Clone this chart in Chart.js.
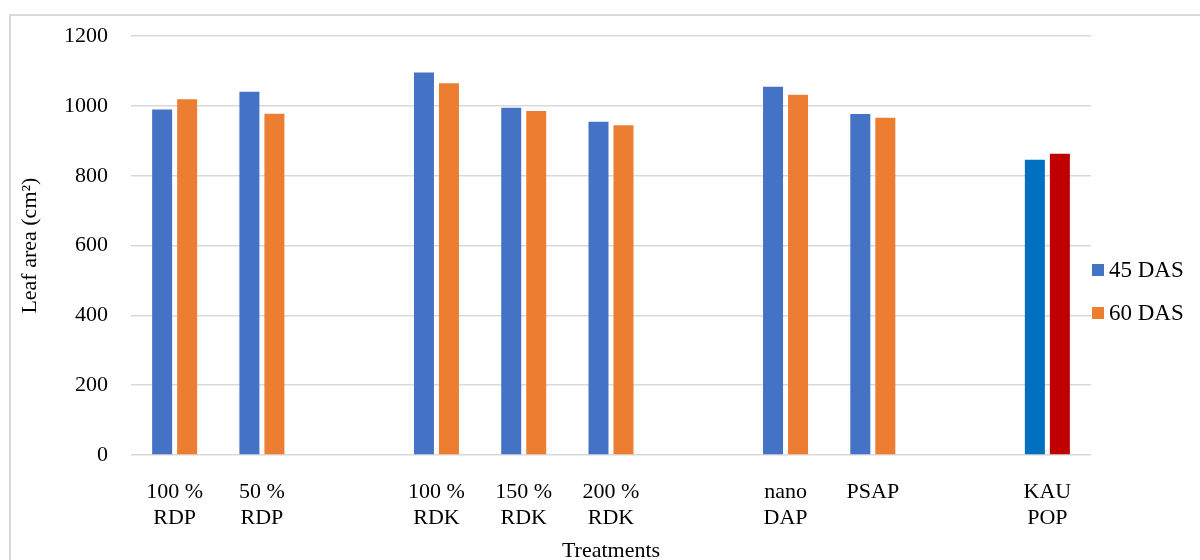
<!DOCTYPE html>
<html>
<head>
<meta charset="utf-8">
<script src="https://cdn.jsdelivr.net/npm/chart.js@4"></script>
<style>
  html, body { margin: 0; padding: 0; width: 1200px; height: 560px; overflow: hidden; background: #fff; }
  #wrap { position: absolute; left: 0; top: 0; width: 1200px; height: 575px; }
  #frame { position: absolute; left: 9px; top: 14px; width: 1200px; height: 600px; border-left: 2px solid #d9d9d9; border-top: 2px solid #d9d9d9; pointer-events: none; }
  #legend { position: absolute; left: 1092px; top: 256px; font-family: "Liberation Serif", "Times New Roman", serif; font-size: 23px; color: #000; }
  .item { display: flex; align-items: center; height: 28px; margin-bottom: 15px; white-space: nowrap; }
  .sw { width: 12px; height: 12px; margin-right: 5px; }
</style>
</head>
<body>
<div id="wrap"><canvas id="c" width="1200" height="575"></canvas></div>
<div id="frame"></div>
<div id="legend"></div>
<script>
const categories = [["100 %","RDP"],["50 %","RDP"],"",["100 %","RDK"],["150 %","RDK"],["200 %","RDK"],"",["nano","DAP"],"PSAP","",["KAU","POP"]];
const das45 = [990, 1041, null, 1096, 995, 955, null, 1055, 977, null, 846];
const das60 = [1019, 978, null, 1065, 986, 945, null, 1032, 966, null, 863];
const seriesNames = ["45 DAS", "60 DAS"];
const yTicks = [0, 200, 400, 600, 800, 1000, 1200];

const blue = "#4472C4", orange = "#ED7D31";
const kauBlue = "#0070C0", kauRed = "#C00000";
const col45 = categories.map((c, i) => i === categories.length - 1 ? kauBlue : blue);
const col60 = categories.map((c, i) => i === categories.length - 1 ? kauRed : orange);

const FONT = "'Liberation Serif', 'Times New Roman', serif";

new Chart(document.getElementById('c'), {
  type: 'bar',
  data: {
    labels: categories,
    datasets: [
      { label: seriesNames[0], data: das45, backgroundColor: col45, barPercentage: 0.8, categoryPercentage: 0.573 },
      { label: seriesNames[1], data: das60, backgroundColor: col60, barPercentage: 0.8, categoryPercentage: 0.573 }
    ]
  },
  options: {
    responsive: false,
    animation: false,
    layout: { padding: { left: 0, right: 109, top: 35, bottom: 0 } },
    plugins: { legend: { display: false }, tooltip: { enabled: false } },
    scales: {
      x: {
        grid: { display: false, drawTicks: false },
        border: { display: false },
        ticks: { color: '#000', font: { family: FONT, size: 22 }, padding: 24, maxRotation: 0, autoSkip: false },
        title: { display: true, text: 'Treatments', color: '#000', font: { family: FONT, size: 22 }, padding: { top: 0, bottom: 11 } },
        afterFit: s => { s.height = 120; }
      },
      y: {
        min: 0, max: 1200,
        afterBuildTicks: s => { s.ticks = yTicks.map(v => ({ value: v })); },
        grid: { color: '#d9d9d9', lineWidth: 1.5, drawTicks: false },
        border: { display: false },
        ticks: { color: '#000', font: { family: FONT, size: 22 }, padding: 23, callback: v => String(v) },
        title: { display: true, text: 'Leaf area (cm²)', color: '#000', font: { family: FONT, size: 22 }, padding: { top: 17, bottom: 0 } },
        afterFit: s => { s.width = 131; }
      }
    }
  }
});

const lg = document.getElementById('legend');
[[seriesNames[0], blue], [seriesNames[1], orange]].forEach(([t, c]) => {
  const d = document.createElement('div'); d.className = 'item';
  const sw = document.createElement('div'); sw.className = 'sw'; sw.style.background = c;
  const tx = document.createElement('span'); tx.textContent = t;
  d.appendChild(sw); d.appendChild(tx); lg.appendChild(d);
});
</script>
</body>
</html>
